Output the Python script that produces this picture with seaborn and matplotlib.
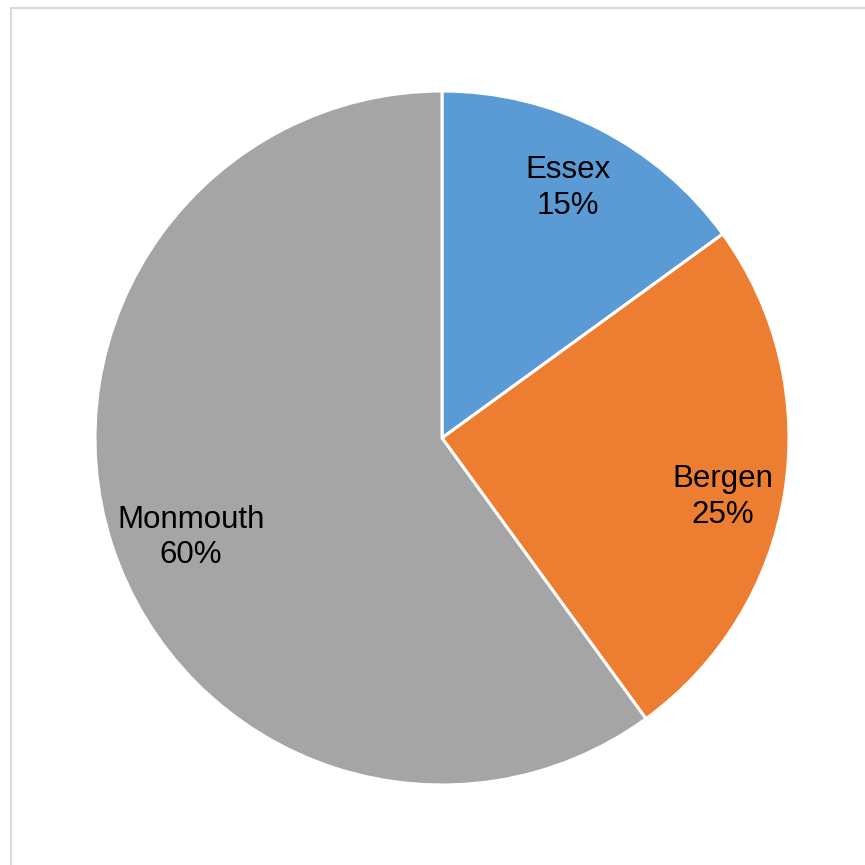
import numpy as np
import matplotlib
matplotlib.use("Agg")
import matplotlib.pyplot as plt
from matplotlib.lines import Line2D
import seaborn as sns

counties = ["Essex", "Bergen", "Monmouth"]
shares = [15, 25, 60]
colors = ["#5B9BD5", "#ED7D31", "#A5A5A5"]

# label placement (radius as fraction of pie radius, angle nudge in degrees)
label_r = [0.815, 0.826, 0.775]
label_nudge = [0.5, -2.2, 3.0]

sns.set_theme(style="white")
plt.rcParams['font.family'] = ['Liberation Sans', 'DejaVu Sans']

fig = plt.figure(figsize=(8.65, 8.65), dpi=100)
cx, cy, r = 442 / 865, 1 - 438 / 865, 347 / 865
ax = fig.add_axes([cx - r, cy - r, 2 * r, 2 * r])

pal = sns.color_palette(colors)
wedges, _ = ax.pie(shares, colors=pal, startangle=90, counterclock=False,
                   labeldistance=None, radius=1.0,
                   wedgeprops=dict(edgecolor="white", linewidth=2.2))
ax.set_xlim(-1, 1)
ax.set_ylim(-1, 1)
ax.set_aspect("equal")

for w, name, val, lr, dn in zip(wedges, counties, shares, label_r, label_nudge):
    ang = np.deg2rad((w.theta1 + w.theta2) / 2 + dn)
    ax.text(lr * np.cos(ang), lr * np.sin(ang) - 0.009, f"{name}\n{val}%",
            ha="center", va="center", fontsize=22.5, color="black",
            linespacing=1.24)

# chart-area border (only left and top visible)
fig.add_artist(Line2D([10.5 / 865, 10.5 / 865], [0, 1 - 7.5 / 865],
                      color="#D9D9D9", linewidth=1.5, transform=fig.transFigure))
fig.add_artist(Line2D([10.5 / 865, 1], [1 - 7.5 / 865, 1 - 7.5 / 865],
                      color="#D9D9D9", linewidth=1.5, transform=fig.transFigure))

fig.savefig("out.png", dpi=100, facecolor="white")
